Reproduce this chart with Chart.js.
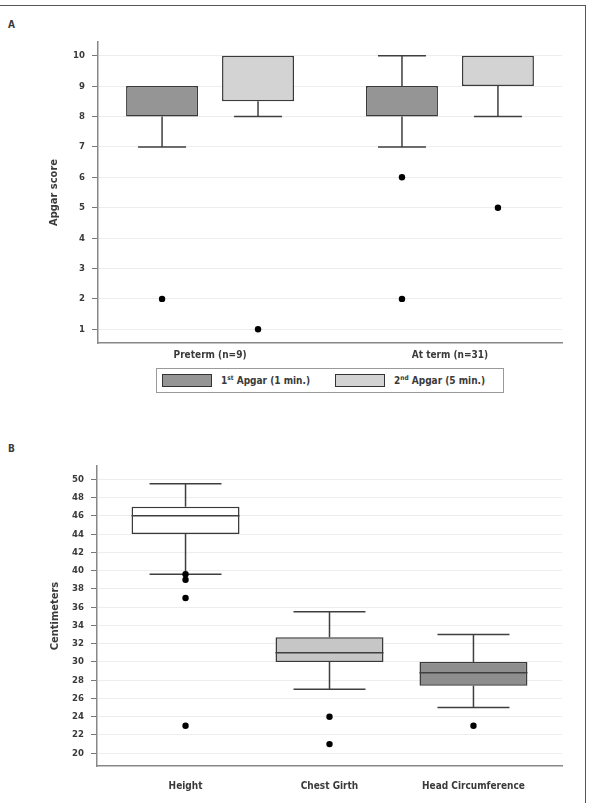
<!DOCTYPE html>
<html>
<head>
<meta charset="utf-8">
<script src="https://cdn.jsdelivr.net/npm/chart.js@4.4.1/dist/chart.umd.min.js"></script>
<style>
  body { margin: 0; background: #fff; width: 592px; height: 803px; overflow: hidden; position: relative;
         font-family: 'Liberation Sans Narrow', 'DejaVu Sans Condensed', sans-serif; color: #3a3a3a; }
  #frame { position: absolute; left: 0; top: 5px; width: 585px; height: 820px;
           border-top: 1.5px solid #555; border-right: 1.5px solid #555; }
  .panel { position: absolute; left: 8px; font-weight: bold; font-size: 10px; line-height: 10px; }
  canvas { position: absolute; left: 0; }
  #legendA { position: absolute; left: 156px; top: 368px; width: 346px; height: 23px; border: 1px solid #9a9a9a;
             font-size: 10px; font-weight: bold; display: flex; align-items: center; }
  .item { width: 178px; display: flex; align-items: center; padding-left: 5px; box-sizing: border-box; }
  .swatch { width: 50px; height: 13px; border: 1.5px solid #333; box-sizing: border-box; margin-right: 9px; }
  sup { font-size: 6.5px; line-height: 0; }
</style>
</head>
<body>
<div id="frame"></div>
<div class="panel" style="top:20px">A</div>
<div class="panel" style="top:444px">B</div>
<canvas id="chartA" width="586" height="362" style="top:0"></canvas>
<div id="legendA"></div>
<canvas id="chartB" width="586" height="383" style="top:420px"></canvas>
<script>
// panel A - apgar scores, [min, q1, median, q3, max] per category
const categoriesA = ['Preterm (n=9)', 'At term (n=31)'];
const apgar1Box = [[7, 8, 8, 9, 9], [7, 8, 8, 9, 10]];
const apgar2Box = [[8, 8.5, 10, 10, 10], [8, 9, 10, 10, 10]];
const apgar1Out = [[2], [6, 2]];
const apgar2Out = [[1], [5]];
const ticksA = [1, 2, 3, 4, 5, 6, 7, 8, 9, 10];

// panel B - body measurements
const categoriesB = ['Height', 'Chest Girth', 'Head Circumference'];
const bodyBox = [[39.6, 44, 46, 47, 49.5], [27, 30, 31, 32.7, 35.5], [25, 27.4, 28.8, 30, 33]];
const bodyOut = [[39.6, 39, 37, 23], [24, 21], [23]];
const ticksB = [20, 22, 24, 26, 28, 30, 32, 34, 36, 38, 40, 42, 44, 46, 48, 50];

Chart.defaults.font.family = "'Liberation Sans Narrow', 'DejaVu Sans Condensed', sans-serif";
Chart.defaults.font.weight = 'bold';
Chart.defaults.color = '#3a3a3a';

function boxData(box, shift) {
    return box.map((b, i) => ({ x: i + shift, y: [b[1], b[3]] }));
}
function outData(outs, shift) {
    let pts = [];
    outs.forEach((list, i) => list.forEach(v => pts.push({ x: i + shift, y: v })));
    return pts;
}

// whiskers under the boxes, medians on top
function drawBoxParts(chart, medians) {
    const ctx = chart.ctx, y = chart.scales.y;
    chart.data.datasets.forEach((ds, d) => {
        if (!ds.stats) return;
        chart.getDatasetMeta(d).data.forEach((bar, i) => {
            const s = ds.stats[i];
            const half = bar.width / 2, cap = bar.width / 3;
            ctx.save();
            ctx.strokeStyle = '#3f3f3f';
            ctx.lineWidth = 1.5;
            ctx.beginPath();
            if (medians) {
                // a median sitting on the box edge is already drawn by the border
                if (s[2] !== s[1] && s[2] !== s[3]) {
                    const m = y.getPixelForValue(s[2]);
                    ctx.moveTo(bar.x - half, m);
                    ctx.lineTo(bar.x + half, m);
                }
            } else {
                [[s[0], s[1]], [s[4], s[3]]].forEach(([end, edge]) => {
                    if (end === edge) return;
                    const pe = y.getPixelForValue(end), pb = y.getPixelForValue(edge);
                    ctx.moveTo(bar.x, pb);
                    ctx.lineTo(bar.x, pe);
                    ctx.moveTo(bar.x - cap, pe);
                    ctx.lineTo(bar.x + cap, pe);
                });
            }
            ctx.stroke();
            ctx.restore();
        });
    });
}
const boxPlugin = {
    id: 'boxParts',
    beforeDatasetsDraw: chart => drawBoxParts(chart, false),
    afterDatasetsDraw: chart => drawBoxParts(chart, true)
};

const barStyle = { type: 'bar', borderColor: '#3a3a3a', borderWidth: 1.5, borderSkipped: false,
                   grouped: false, barPercentage: 0.75, categoryPercentage: 1 };
const dotStyle = { type: 'scatter', pointRadius: 3.2, pointBackgroundColor: '#000', pointBorderWidth: 0 };

function xScale(min, max, cats, pad, h) {
    return {
        type: 'linear', min: min, max: max, offset: false,
        afterBuildTicks: s => { s.ticks = cats.map((c, i) => ({ value: i })); },
        afterFit: s => { s.height = h; },
        grid: { display: false, drawTicks: false, offset: false },
        border: { display: true, color: '#888', width: 1.5 },
        ticks: { padding: pad, autoSkip: false, maxRotation: 0, font: { size: 10 }, callback: v => cats[v] }
    };
}
function yScale(min, max, ticks, title, w, pad) {
    return {
        min: min, max: max,
        afterBuildTicks: s => { s.ticks = ticks.map(v => ({ value: v })); },
        afterFit: s => { s.width = w; },
        grid: { color: '#ededed', tickColor: '#777', tickLength: 6, lineWidth: 1 },
        border: { color: '#888', width: 1.5 },
        ticks: { padding: 7, font: { size: 9.5 } },
        title: { display: true, text: title, font: { size: 11 }, padding: { top: pad } }
    };
}
const common = {
    responsive: false,
    animation: false,
    plugins: { legend: { display: false }, tooltip: { enabled: false } }
};

var chartA = new Chart(document.getElementById('chartA'), {
    type: 'bar',
    data: {
        datasets: [
            Object.assign({ label: '1st Apgar (1 min.)', data: boxData(apgar1Box, -0.2), stats: apgar1Box, backgroundColor: '#959595' }, barStyle),
            Object.assign({ label: '2nd Apgar (5 min.)', data: boxData(apgar2Box, 0.2), stats: apgar2Box, backgroundColor: '#d3d3d3' }, barStyle),
            Object.assign({ data: outData(apgar1Out, -0.2) }, dotStyle),
            Object.assign({ data: outData(apgar2Out, 0.2) }, dotStyle)
        ]
    },
    options: Object.assign({
        layout: { padding: { top: 42, right: 24, left: 0, bottom: 0 } },
        scales: {
            x: xScale(-0.467, 1.467, categoriesA, 6, 19),
            y: yScale(0.55, 10.45, ticksA, 'Apgar score', 98, 48)
        }
    }, common),
    plugins: [boxPlugin]
});

// html legend, so the ordinals can get real superscripts
var legendA = document.getElementById('legendA');
chartA.data.datasets.filter(ds => ds.type === 'bar').forEach(ds => {
    let item = document.createElement('div');
    item.className = 'item';
    item.innerHTML = '<span class="swatch" style="background:' + ds.backgroundColor + '"></span>' +
        '<span>' + ds.label.replace(/(\d)(st|nd|rd|th)/, '$1<sup>$2</sup>') + '</span>';
    legendA.appendChild(item);
});

var chartB = new Chart(document.getElementById('chartB'), {
    type: 'bar',
    data: {
        datasets: [
            Object.assign({ label: 'Centimeters', data: boxData(bodyBox, 0), stats: bodyBox,
                            backgroundColor: ['#ffffff', '#c6c6c6', '#8e8e8e'] }, barStyle),
            Object.assign({ data: outData(bodyOut, 0) }, dotStyle)
        ]
    },
    options: Object.assign({
        layout: { padding: { top: 46, right: 24, left: 0, bottom: 0 } },
        scales: {
            x: xScale(-0.615, 2.615, categoriesB, 14, 37),
            y: yScale(18.6, 51.45, ticksB, 'Centimeters', 97, 49)
        }
    }, common),
    plugins: [boxPlugin]
});
</script>
</body>
</html>
